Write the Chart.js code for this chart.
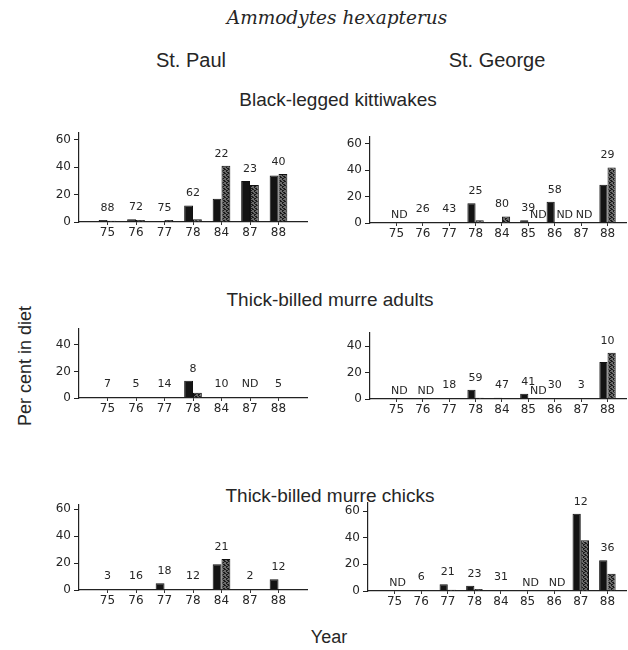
<!DOCTYPE html>
<html>
<head>
<meta charset="utf-8">
<script src="https://cdn.jsdelivr.net/npm/chart.js@4.4.1/dist/chart.umd.min.js"></script>
<style>
  body { margin: 0; background: #fff; width: 628px; height: 650px; position: relative; overflow: hidden;
         font-family: "Liberation Sans", Arial, sans-serif; color: #262626; }
  .t { position: absolute; white-space: nowrap; transform: translate(-50%, -50%); }
  canvas { position: absolute; }
</style>
</head>
<body>
<div class="t" style="left:337px;top:17px;font:italic 18.5px 'DejaVu Serif'">Ammodytes hexapterus</div>
<div class="t" style="left:191px;top:60px;font-size:20px">St. Paul</div>
<div class="t" style="left:497px;top:60px;font-size:20px">St. George</div>
<div class="t" style="left:338px;top:100px;font-size:19px">Black-legged kittiwakes</div>
<div class="t" style="left:330px;top:300px;font-size:19px">Thick-billed murre adults</div>
<div class="t" style="left:330px;top:496px;font-size:19px">Thick-billed murre chicks</div>
<div class="t" style="left:329px;top:637px;font-size:18px">Year</div>
<div class="t" style="left:25px;top:366px;font-size:18px;transform:translate(-50%,-50%) rotate(-90deg)">Per cent in diet</div>

<canvas id="kitPaul"></canvas>
<canvas id="kitGeorge"></canvas>
<canvas id="adPaul"></canvas>
<canvas id="adGeorge"></canvas>
<canvas id="chPaul"></canvas>
<canvas id="chGeorge"></canvas>

<script>
// years (x tick labels)
const paulYears = ["75", "76", "77", "78", "84", "87", "88"];
const georgeYears = ["75", "76", "77", "78", "84", "85", "86", "87", "88"];

// black-legged kittiwakes
const kitPaulA = [1.5, 2, 0.5, 12, 17, 30, 34];
const kitPaulB = [1, 1.5, 1.5, 2, 41, 27, 35];
const kitPaulN = ["88", "72", "75", "62", "22", "23", "40"];
const kitPaulND = ["", "", "", "", "", "", ""];

const kitGeorgeA = [0, 0, 0, 15, 0.5, 2, 16, 0, 29];
const kitGeorgeB = [0, 0, 0, 2, 5, 0, 0, 0, 42];
const kitGeorgeN = ["", "26", "43", "25", "80", "39", "58", "", "29"];
const kitGeorgeND = ["ND", "", "", "", "", "ND", "ND", "ND", ""];

// thick-billed murre adults
const adPaulA = [0, 0, 0, 13, 0, 0, 0];
const adPaulB = [0, 0, 0, 4, 0, 0, 0];
const adPaulN = ["7", "5", "14", "8", "10", "ND", "5"];
const adPaulND = ["", "", "", "", "", "", ""];

const adGeorgeA = [0, 0, 0, 7, 1, 4, 0, 0, 28];
const adGeorgeB = [0, 0, 0, 1, 0.5, 0, 0, 0, 35];
const adGeorgeN = ["", "", "18", "59", "47", "41", "30", "3", "10"];
const adGeorgeND = ["ND", "ND", "", "", "", "ND", "", "", ""];

// thick-billed murre chicks
const chPaulA = [0, 0, 5, 0, 19, 0, 8];
const chPaulB = [0, 0, 0, 0, 23, 0, 0];
const chPaulN = ["3", "16", "18", "12", "21", "2", "12"];
const chPaulND = ["", "", "", "", "", "", ""];

const chGeorgeA = [0, 0, 5, 4, 0, 0, 0, 58, 23];
const chGeorgeB = [0, 0, 1, 1.5, 0, 0, 0, 38, 13];
const chGeorgeN = ["", "6", "21", "23", "31", "", "", "12", "36"];
const chGeorgeND = ["ND", "", "", "", "", "ND", "ND", "", ""];

// stippled fill for the second bar of each pair
const pc = document.createElement("canvas");
pc.width = 4; pc.height = 4;
const pctx = pc.getContext("2d");
pctx.fillStyle = "#6a6a6a";
pctx.fillRect(0, 0, 4, 4);
pctx.fillStyle = "#1a1a1a";
[[0, 0], [2, 1], [1, 2], [3, 3], [3, 0], [1, 1], [2, 3]].forEach(([x, y]) => pctx.fillRect(x, y, 1, 1));
const stipple = pctx.createPattern(pc, "repeat");

const tickFont = { family: "DejaVu Sans", size: 12 };

function notes(a, b, nums, nds) {
  return {
    id: "notes",
    afterDatasetsDraw(chart) {
      const { ctx, scales: { x, y } } = chart;
      const base = y.getPixelForValue(0);
      ctx.save();
      ctx.font = '11px "DejaVu Sans"';
      ctx.fillStyle = "#262626";
      ctx.textAlign = "center";
      ctx.textBaseline = "middle";
      nums.forEach((t, i) => {
        if (!t) return;
        const top = y.getPixelForValue(Math.max(a[i], b[i]));
        ctx.fillText(t, x.getPixelForValue(i), Math.min(base - 14, top - 12));
      });
      nds.forEach((t, i) => {
        if (!t) return;
        const dx = nums[i] ? 10 : 3;
        ctx.fillText(t, x.getPixelForValue(i) + dx, base - 8);
      });
      ctx.restore();
    }
  };
}

// box = plot area in page pixels
function panel(id, box, years, a, b, yMax, xMax, nums, nds) {
  const cv = document.getElementById(id);
  cv.width = box.r - box.l + 36;
  cv.height = box.b - box.t + 36;
  cv.style.left = (box.l - 34) + "px";
  cv.style.top = (box.t - 12) + "px";

  new Chart(cv, {
    type: "bar",
    data: {
      datasets: [
        { data: a.map((v, i) => ({ x: i, y: v })), backgroundColor: "#141414" },
        { data: b.map((v, i) => ({ x: i, y: v })), backgroundColor: stipple }
      ]
    },
    options: {
      responsive: false,
      animation: false,
      layout: { padding: { left: 4, top: 12, right: 2, bottom: 2 } },
      datasets: {
        bar: { barPercentage: 1, categoryPercentage: 0.62, borderColor: "#111", borderWidth: 1 }
      },
      plugins: { legend: { display: false }, tooltip: { enabled: false } },
      scales: {
        x: {
          type: "linear", min: -1, max: xMax, offset: false,
          afterFit: (s) => { s.height = 22; },
          grid: {
            offset: false, drawOnChartArea: false, tickLength: 3,
            tickColor: (c) => (c.tick && c.tick.value >= 0 && c.tick.value < years.length ? "#333" : "rgba(0,0,0,0)")
          },
          border: { color: "#222", width: 1.2 },
          ticks: {
            stepSize: 1, autoSkip: false, maxRotation: 0, padding: 1, includeBounds: false,
            color: "#262626", font: tickFont,
            callback: (v) => years[v] ?? ""
          }
        },
        y: {
          min: 0, max: yMax,
          afterFit: (s) => { s.width = 30; },
          grid: { drawOnChartArea: false, tickLength: 5, color: "#222" },
          border: { color: "#222", width: 1.2 },
          ticks: { stepSize: 20, includeBounds: false, padding: 3, color: "#262626", font: tickFont }
        }
      }
    },
    plugins: [notes(a, b, nums, nds)]
  });
}

panel("kitPaul", { l: 79, r: 307, t: 133, b: 222 }, paulYears, kitPaulA, kitPaulB, 65, 7, kitPaulN, kitPaulND);
panel("kitGeorge", { l: 370, r: 626, t: 137, b: 223 }, georgeYears, kitGeorgeA, kitGeorgeB, 65, 8.7, kitGeorgeN, kitGeorgeND);
panel("adPaul", { l: 79, r: 307, t: 329, b: 398 }, paulYears, adPaulA, adPaulB, 52, 7, adPaulN, adPaulND);
panel("adGeorge", { l: 370, r: 626, t: 333, b: 399 }, georgeYears, adGeorgeA, adGeorgeB, 50, 8.7, adGeorgeN, adGeorgeND);
panel("chPaul", { l: 79, r: 307, t: 505, b: 590 }, paulYears, chPaulA, chPaulB, 63, 7, chPaulN, chPaulND);
panel("chGeorge", { l: 368, r: 626, t: 503, b: 591 }, georgeYears, chGeorgeA, chGeorgeB, 66, 8.7, chGeorgeN, chGeorgeND);
</script>
</body>
</html>
